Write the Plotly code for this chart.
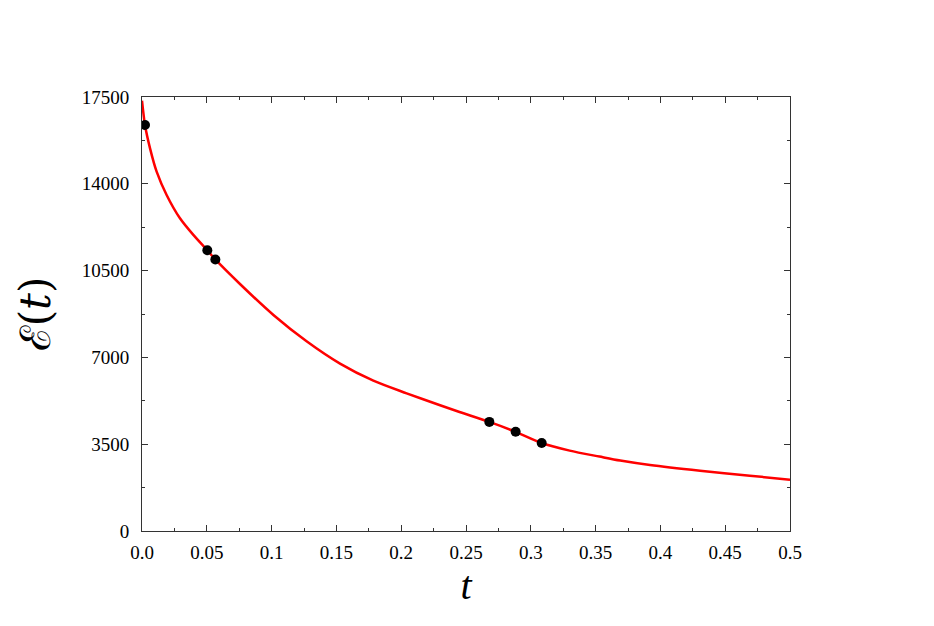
import plotly.graph_objects as go

# curve
t_curve = [0, 0.0023, 0.0062, 0.0113, 0.019, 0.0293, 0.0396, 0.0504, 0.0566, 0.0756,
           0.1014, 0.127, 0.1528, 0.1785, 0.2042, 0.23, 0.245, 0.268, 0.2883, 0.3084,
           0.330, 0.353, 0.369, 0.392, 0.4306, 0.469, 0.5]
e_curve = [17350, 16370, 15430, 14490, 13550, 12610, 11940, 11320, 10950, 9960,
           8710, 7650, 6750, 6060, 5550, 5070, 4800, 4400, 4000, 3550,
           3240, 3000, 2840, 2660, 2430, 2230, 2070]

# black dots
t_dots = [0.0023, 0.0504, 0.0566, 0.268, 0.2883, 0.3084]
e_dots = [16370, 11320, 10950, 4400, 4000, 3550]

x_ticks = [0, 0.05, 0.1, 0.15, 0.2, 0.25, 0.3, 0.35, 0.4, 0.45, 0.5]
x_labels = ["0.0", "0.05", "0.1", "0.15", "0.2", "0.25", "0.3", "0.35", "0.4", "0.45", "0.5"]
y_ticks = [0, 3500, 7000, 10500, 14000, 17500]
y_labels = ["0", "3500", "7000", "10500", "14000", "17500"]

serif = "Liberation Serif, Times New Roman, serif"

fig = go.Figure()
fig.add_trace(go.Scatter(x=t_curve, y=e_curve, mode="lines",
                         line=dict(color="#ff0000", width=2.5, shape="spline", smoothing=0.8),
                         showlegend=False))
fig.add_trace(go.Scatter(x=t_dots, y=e_dots, mode="markers",
                         marker=dict(color="black", size=10),
                         showlegend=False))

axis_common = dict(showline=True, linecolor="#333333", linewidth=1, mirror="ticks",
                   ticks="inside", ticklen=6, tickcolor="#333333", showgrid=False,
                   zeroline=False, tickfont=dict(family=serif, size=19, color="black"))

fig.update_xaxes(range=[0, 0.5], tickvals=x_ticks, ticktext=x_labels, ticklabelstandoff=4,
                 minor=dict(dtick=0.025, tick0=0, ticks="inside", ticklen=3, tickcolor="#333333"),
                 title=dict(text="<i>t</i>", font=dict(family=serif, size=40, color="black"), standoff=4),
                 **axis_common)
fig.update_yaxes(range=[0, 17500], tickvals=y_ticks, ticktext=y_labels, ticklabelstandoff=8,
                 minor=dict(dtick=1750, tick0=0, ticks="inside", ticklen=3, tickcolor="#333333"),
                 title=dict(text="ℰ(<i>t</i>)", font=dict(family="DejaVu Serif, serif", size=42, color="black"), standoff=18),
                 **axis_common)

# page body adds 8px margin on top/left
fig.update_layout(width=934, height=626, plot_bgcolor="white", paper_bgcolor="white",
                  margin=dict(l=134, r=152, t=89, b=103))

fig.write_html("out.html")
